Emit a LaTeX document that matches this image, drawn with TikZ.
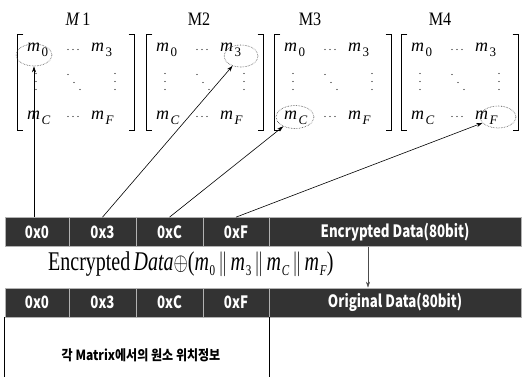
\documentclass[tikz,border=0pt]{standalone}
\usepackage{fontspec}
\setmainfont{Liberation Serif}
\newfontfamily\krfont{Noto Sans CJK KR}
\usetikzlibrary{shapes.geometric,arrows.meta,calc}
\newcommand\cx[1]{\scalebox{0.78}[1]{#1}}
\newcommand\sbx[1]{\hspace{1.5pt}\raisebox{-5pt}{\fontsize{13}{13}\selectfont #1}}
\newcommand\esbx[1]{\hspace{1pt}\raisebox{-5pt}{\fontsize{15}{15}\selectfont #1}}
\newcommand\ment[1]{\textit{m}\sbx{#1}}
\newcommand\eent[1]{\textit{m}\esbx{#1}}
\begin{document}
\begin{tikzpicture}[x=1pt,y=-1pt,
  cell/.style={draw=gray!60, line width=0.7pt, fill=black!80, minimum height=29pt, inner sep=0pt,
    text=white, font=\krfont\bfseries\fontsize{17}{17}\selectfont},
  matbox/.style={minimum width=117pt, minimum height=95pt, inner sep=0pt},
  brk/.style={line width=0.7pt},
  ent/.style={anchor=base west, inner sep=0pt, font=\fontsize{18}{18}\selectfont},
  mlab/.style={anchor=base, inner sep=0pt, font=\fontsize{19}{19}\selectfont},
  ell/.style={ellipse, draw=black!75, densely dotted, line width=0.6pt, inner sep=0pt},
  arr/.style={-{Stealth[length=6pt,width=4pt]}, line width=0.6pt},
  mdot/.style={fill=black}
]
\useasboundingbox (0,0) rectangle (526,376);

% matrix labels
\node[mlab] (l1) at (78,25) {\scalebox{0.85}[1]{\textit{M}\,1}};
\node[mlab] (l2) at (199,25) {\scalebox{0.85}[1]{M2}};
\node[mlab] (l3) at (310,25) {\scalebox{0.85}[1]{M3}};
\node[mlab] (l4) at (440,25) {\scalebox{0.85}[1]{M4}};

% matrices
\foreach \i/\mx in {1/76,2/205,3/333,4/460}{
  \node[matbox] (mat\i) at (\mx,82.5) {};
  \draw[brk] ($(mat\i.north west)+(6,0)$) -- (mat\i.north west) -- (mat\i.south west) -- ++(6,0);
  \draw[brk] ($(mat\i.north east)+(-6,0)$) -- (mat\i.north east) -- (mat\i.south east) -- ++(-6,0);
  \begin{scope}[shift={(\mx,82.5)}]
    \node[ent] (a\i) at (-49,-31) {\ment{0}};
    \node[ent] (b\i) at (15,-31) {\ment{3}};
    \node[ent] (c\i) at (-49,37) {\ment{\textit{C}}};
    \node[ent] (d\i) at (15,37) {\ment{\textit{F}}};
    \foreach \dx in {-8,-3,2}{
      \fill[mdot] (\dx,-33) circle[radius=0.6pt];
      \fill[mdot] (\dx,34) circle[radius=0.6pt];
    }
    \foreach \dy in {-9,-1,7}{
      \fill[mdot] (-40,\dy) circle[radius=0.6pt];
      \fill[mdot] (39,\dy) circle[radius=0.6pt];
    }
    \foreach \dx/\dy in {-8/-8,-2/0,4/7}{
      \fill[mdot] (\dx,\dy) circle[radius=0.6pt];
    }
  \end{scope}
}

% highlight ellipses
\node[ell, minimum width=36pt, minimum height=22pt] (e1) at (34,55) {};
\node[ell, minimum width=34pt, minimum height=22pt] (e2) at (241,56) {};
\node[ell, minimum width=38pt, minimum height=23pt] (e3) at (295,117) {};
\node[ell, minimum width=36pt, minimum height=22pt] (e4) at (498,117) {};

% bar 1
\node[cell, minimum width=64pt] (c10) at (37,232) {\cx{0x0}};
\node[cell, minimum width=67pt] (c13) at (102.5,232) {\cx{0x3}};
\node[cell, minimum width=67pt] (c1C) at (169.5,232) {\cx{0xC}};
\node[cell, minimum width=66pt] (c1F) at (236,232) {\cx{0xF}};
\node[cell, minimum width=252pt] (c1D) at (395,232) {\cx{Encrypted Data(80bit)}};

% arrows to matrices
\draw[arr] (c10.north -| e1.south) -- (e1.south);
\draw[arr] (c13.north) -- (e2);
\draw[arr] (c1C.north) -- (e3);
\draw[arr] (c1F.north) -- (e4);

% equation
\node[anchor=base west, inner sep=0pt, font=\fontsize{27}{27}\selectfont] (eq) at (48,270)
  {\scalebox{0.74}[1]{Encrypted\,\textit{Data}$\oplus$(\eent{0}$\,\|\,$\eent{3}$\,\|\,$\eent{\textit{C}}$\,\|\,$\eent{\textit{F}})}};

% bar 2
\node[cell, minimum width=64pt] (c20) at (37,302.5) {\cx{0x0}};
\node[cell, minimum width=67pt] (c23) at (102.5,302.5) {\cx{0x3}};
\node[cell, minimum width=67pt] (c2C) at (169.5,302.5) {\cx{0xC}};
\node[cell, minimum width=66pt] (c2F) at (236,302.5) {\cx{0xF}};
\node[cell, minimum width=252pt] (c2D) at (395,302.5) {\cx{Original Data(80bit)}};

% down arrow
\coordinate (ad) at (368,0);
\draw[arr, line width=0.5pt, draw=black!70] (c1D.south -| ad) -- (c2D.north -| ad);

% info box
\draw[line width=0.7pt] (c20.south west) -- ++(0,60);
\draw[line width=0.7pt] (c2F.south east) -- ++(0,60);
\node[inner sep=0pt, font=\krfont\bfseries\fontsize{14}{14}\selectfont] (info) at (141,355)
  {\scalebox{0.86}[1]{각 Matrix에서의 원소 위치정보}};
\end{tikzpicture}
\end{document}
